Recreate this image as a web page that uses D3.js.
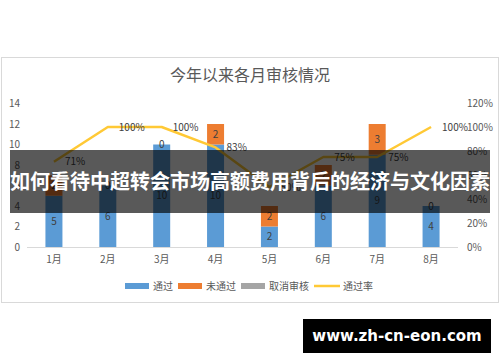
<!DOCTYPE html>
<html>
<head>
<meta charset="utf-8">
<script src="https://cdn.jsdelivr.net/npm/d3@7/dist/d3.min.js"></script>
<style>
  body { margin: 0; background: #fff; }
  text { font-family: "Noto Sans CJK SC", "Noto Sans", sans-serif; }
</style>
</head>
<body>
<div id="chartBox"></div>
<script>
var months = ["1月", "2月", "3月", "4月", "5月", "6月", "7月", "8月"];
var passed = [5, 6, 10, 10, 2, 6, 9, 4];
var failed = [2, 0, 0, 2, 2, 2, 3, 0];
var cancelled = [0, 0, 0, 0, 0, 0, 0, 0];
var passRate = [71, 100, 100, 83, 50, 75, 75, 100];
var leftTicks = [0, 2, 4, 6, 8, 10, 12, 14];
var rightTicks = [0, 20, 40, 60, 80, 100, 120];
var seriesNames = ["通过", "未通过", "取消审核", "通过率"];

var colors = ["#5b9bd5", "#ed7d31", "#a5a5a5", "#ffc000"];

var outerWidth = 500,
    outerHeight = 362;

var svg = d3.select("#chartBox").append("svg")
  .attr("width", outerWidth)
  .attr("height", outerHeight);

// chart frame
svg.append("rect")
  .attr("x", 1.5).attr("y", 57.5)
  .attr("width", 497).attr("height", 245)
  .attr("fill", "#fff")
  .attr("stroke", "#d9d9d9");

svg.append("text")
  .attr("x", 250).attr("y", 81)
  .attr("text-anchor", "middle")
  .style("font-size", "16px")
  .style("fill", "#595959")
  .text("今年以来各月审核情况");

var x = d3.scaleBand().domain(months).range([27, 458]);
var y = d3.scaleLinear().domain([0, 14]).range([247, 103.5]);
var yr = d3.scaleLinear().domain([0, 120]).range([247, 103]);
var barW = 17;

// axes
svg.append("g")
  .selectAll("text")
  .data(leftTicks)
  .enter().append("text")
  .attr("x", 20).attr("y", function(d) { return y(d); })
  .attr("dy", "0.35em")
  .attr("text-anchor", "end")
  .style("font-size", "10px")
  .style("fill", "#595959")
  .text(function(d) { return d; });

svg.append("g")
  .selectAll("text")
  .data(rightTicks)
  .enter().append("text")
  .attr("x", 467).attr("y", function(d) { return yr(d); })
  .attr("dy", "0.35em")
  .style("font-size", "10px")
  .style("fill", "#595959")
  .text(function(d) { return d + "%"; });

svg.append("line")
  .attr("x1", 27).attr("x2", 458)
  .attr("y1", 247.5).attr("y2", 247.5)
  .attr("stroke", "#d9d9d9");

svg.append("g")
  .selectAll("text")
  .data(months)
  .enter().append("text")
  .attr("x", function(d) { return x(d) + x.bandwidth() / 2; })
  .attr("y", 263)
  .attr("text-anchor", "middle")
  .style("font-size", "10px")
  .style("fill", "#595959")
  .text(function(d) { return d; });

// stacked bars
var rows = months.map(function(m, i) {
  return { month: m, passed: passed[i], failed: failed[i], cancelled: cancelled[i] };
});
var stack = d3.stack().keys(["passed", "failed", "cancelled"])(rows);

var layers = svg.append("g").selectAll("g")
  .data(stack)
  .enter().append("g")
  .attr("fill", function(d, i) { return colors[i]; });

layers.selectAll("rect")
  .data(function(d) { return d; })
  .enter().append("rect")
  .attr("x", function(d) { return x(d.data.month) + x.bandwidth() / 2 - barW / 2; })
  .attr("width", barW)
  .attr("y", function(d) { return y(d[1]); })
  .attr("height", function(d) { return y(d[0]) - y(d[1]); });

// value labels for passed / failed
stack.slice(0, 2).forEach(function(layer) {
  svg.append("g").selectAll("text")
    .data(layer)
    .enter().append("text")
    .attr("x", function(d) { return x(d.data.month) + x.bandwidth() / 2; })
    .attr("y", function(d) { return (y(d[0]) + y(d[1])) / 2; })
    .attr("dy", "0.35em")
    .attr("text-anchor", "middle")
    .style("font-size", "10px")
    .style("fill", "#404040")
    .text(function(d) { return d[1] - d[0]; });
});

// pass rate line
var line = d3.line()
  .x(function(d, i) { return x(months[i]) + x.bandwidth() / 2; })
  .y(function(d) { return yr(d); });

svg.append("path")
  .datum(passRate)
  .attr("d", line)
  .attr("fill", "none")
  .attr("stroke", "#ffc935")
  .attr("stroke-width", 2.5)
  .attr("stroke-linejoin", "round");

svg.append("g").selectAll("text")
  .data(passRate)
  .enter().append("text")
  .attr("x", function(d, i) { return x(months[i]) + x.bandwidth() / 2 + 11; })
  .attr("y", function(d) { return yr(d); })
  .attr("dy", "0.35em")
  .style("font-size", "10px")
  .style("fill", "#404040")
  .text(function(d) { return d + "%"; });

// legend
var legendX = [125, 178, 241, 314];
var legend = svg.append("g");
seriesNames.forEach(function(name, i) {
  if (i < 3) {
    legend.append("rect")
      .attr("x", legendX[i]).attr("y", 283)
      .attr("width", 24).attr("height", 6)
      .attr("fill", colors[i]);
  } else {
    legend.append("line")
      .attr("x1", legendX[i]).attr("x2", legendX[i] + 26)
      .attr("y1", 286).attr("y2", 286)
      .attr("stroke", "#ffc935").attr("stroke-width", 2.5);
  }
  legend.append("text")
    .attr("x", legendX[i] + (i < 3 ? 28 : 29)).attr("y", 286)
    .attr("dy", "0.35em")
    .style("font-size", "10px")
    .style("fill", "#595959")
    .text(name);
});

// overlay banner
svg.append("rect")
  .attr("x", 10).attr("y", 150)
  .attr("width", 480).attr("height", 63)
  .attr("fill", "rgba(0,0,0,0.65)");

svg.append("text")
  .attr("x", 250).attr("y", 182)
  .attr("dy", "0.35em")
  .attr("text-anchor", "middle")
  .style("font-size", "20px")
  .style("font-weight", "bold")
  .style("fill", "#fff")
  .text("如何看待中超转会市场高额费用背后的经济与文化因素");

// site badge
svg.append("rect")
  .attr("x", 303).attr("y", 319)
  .attr("width", 188).attr("height", 34)
  .attr("fill", "#000");

svg.append("text")
  .attr("x", 397).attr("y", 336)
  .attr("dy", "0.35em")
  .attr("text-anchor", "middle")
  .style("font-family", "'DejaVu Sans', sans-serif")
  .style("font-size", "15px")
  .style("font-weight", "bold")
  .style("fill", "#fff")
  .text("www.zh-cn-eon.com");
</script>
</body>
</html>
